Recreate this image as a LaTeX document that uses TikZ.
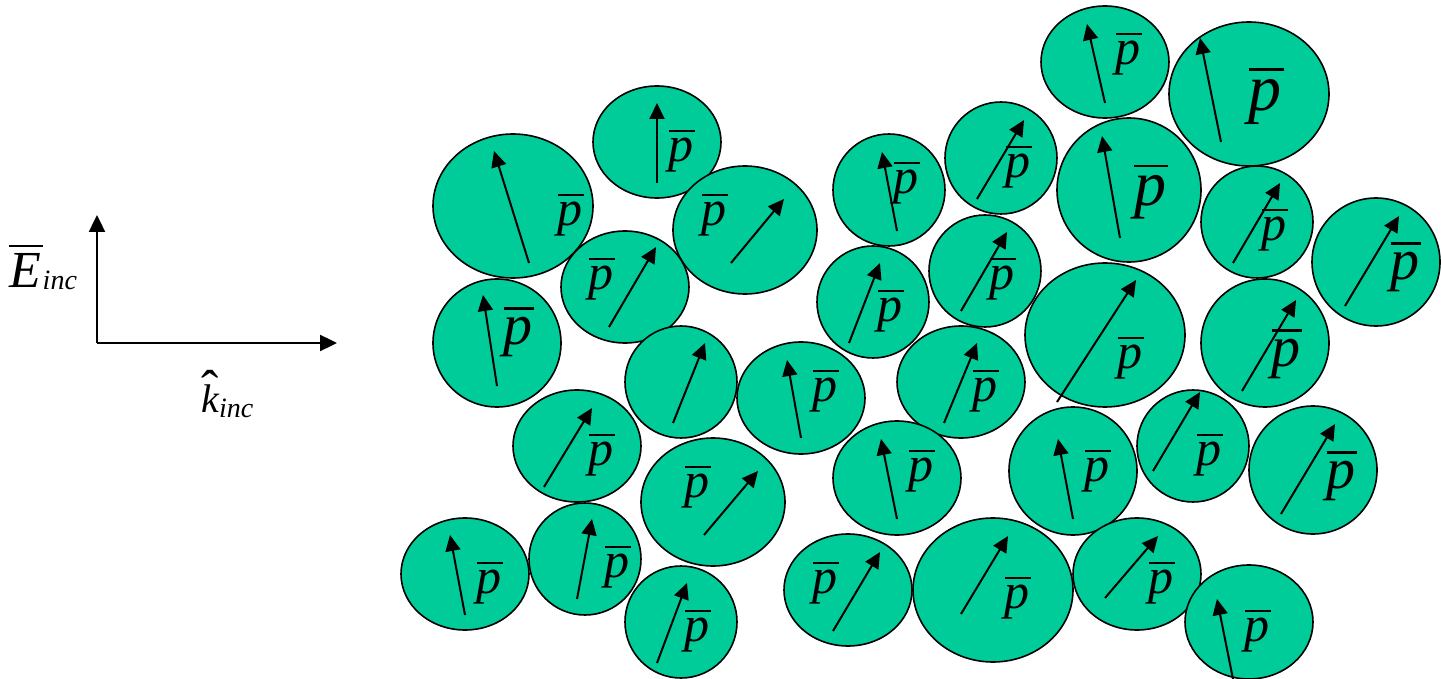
\documentclass[tikz,border=0pt]{standalone}
\usepackage{fontspec}
\setmainfont{Liberation Serif}
\usepackage{tikz}
\usetikzlibrary{arrows.meta}

\definecolor{grainfill}{HTML}{00CC99}
% letter with a bar over it
\newcommand{\barred}[1]{\leavevmode\vbox{\hrule height 0.045em\kern0.13em\hbox{\itshape #1\kern0.03em}}}
\newcommand{\pbar}{\barred{p}}
% letter with a hat over it
\newcommand{\hatted}[1]{{\setbox0\hbox{\itshape #1}%
    \rlap{\hbox to \wd0{\hss\raisebox{3pt}{\fontsize{26}{26}\selectfont\char"02C6}\hss}}\box0}}

\begin{document}
\begin{tikzpicture}[
    x=0.5pt, y=-0.5pt,
    grain/.style={draw=black, line width=0.8pt, fill=grainfill},
    dip/.style  ={-{Triangle[length=8pt, width=7.5pt]}, line width=1pt},
    axis/.style ={-{Triangle[length=8.5pt, width=8pt]}, line width=1.2pt},
    plab/.style ={inner sep=0pt, font=\fontsize{25}{25}\selectfont},
    pmid/.style ={inner sep=0pt, font=\fontsize{29}{29}\selectfont},
    pbig/.style ={inner sep=0pt, font=\fontsize{32}{32}\selectfont}
]
\useasboundingbox (0,0) rectangle (1441,679);

% incident field
\coordinate (origin) at (97,343);
\coordinate (etip)   at (97,215);
\coordinate (ktip)   at (337,343);
\draw[axis] (origin) -- (etip);
\draw[axis] (origin) -- (ktip);
\node[inner sep=0pt, anchor=base west, font=\fontsize{26}{26}\selectfont] (elabel) at (9,288)
    {\barred{E}\raisebox{-1pt}{\fontsize{14}{14}\selectfont\itshape inc}};
\node[inner sep=0pt, anchor=base west, font=\fontsize{20}{20}\selectfont] (klabel) at (201,413)
    {\hatted{k}\raisebox{-2pt}{\fontsize{14}{14}\selectfont\itshape inc}};

% grains
\draw[grain] (513,206) ellipse [x radius=80, y radius=72];
\draw[dip] (529,263) -- (494,151);
\node[plab] (p1) at (571,215) {\pbar};

\draw[grain] (657,142) ellipse [x radius=64, y radius=56];
\draw[dip] (657,183) -- (657,103);
\node[plab] (p2) at (682,151) {\pbar};

\draw[grain] (745,230) ellipse [x radius=72, y radius=64];
\draw[dip] (731,263) -- (784,199);
\node[plab] (p3) at (715,215) {\pbar};

\draw[grain] (625,287) ellipse [x radius=64, y radius=56];
\draw[dip] (609,327) -- (656,247);
\node[plab] (p4) at (602,279) {\pbar};

\draw[grain] (497,343) ellipse [x radius=64, y radius=64];
\draw[dip] (497,386) -- (483,295);
\node[pmid] (p5) at (519,332) {\pbar};

\draw[grain] (681,382) ellipse [x radius=56, y radius=56];
\draw[dip] (673,423) -- (705,343);

\draw[grain] (801,398) ellipse [x radius=64, y radius=56];
\draw[dip] (801,438) -- (787,360);
\node[plab] (p7) at (826,391) {\pbar};

\draw[grain] (577,446) ellipse [x radius=64, y radius=56];
\draw[dip] (544,487) -- (592,408);
\node[plab] (p8) at (602,455) {\pbar};

\draw[grain] (713,502) ellipse [x radius=72, y radius=64];
\draw[dip] (704,535) -- (758,471);
\node[plab] (p9) at (698,487) {\pbar};

\draw[grain] (465,574) ellipse [x radius=64, y radius=56];
\draw[dip] (465,615) -- (450,535);
\node[plab] (p10) at (490,583) {\pbar};

\draw[grain] (585,559) ellipse [x radius=56, y radius=56];
\draw[dip] (577,599) -- (592,519);
\node[plab] (p11) at (618,567) {\pbar};

\draw[grain] (681,622) ellipse [x radius=56, y radius=56];
\draw[dip] (657,663) -- (687,583);
\node[plab] (p12) at (698,631) {\pbar};

\draw[grain] (848,590) ellipse [x radius=64, y radius=56];
\draw[dip] (833,631) -- (880,552);
\node[plab] (p13) at (826,583) {\pbar};

\draw[grain] (993,590) ellipse [x radius=80, y radius=72];
\draw[dip] (961,614) -- (1008,536);
\node[plab] (p14) at (1018,598) {\pbar};

\draw[grain] (961,382) ellipse [x radius=64, y radius=56];
\draw[dip] (944,423) -- (977,343);
\node[plab] (p15) at (986,391) {\pbar};

\draw[grain] (897,478) ellipse [x radius=64, y radius=57];
\draw[dip] (897,519) -- (881,439);
\node[plab] (p16) at (922,471) {\pbar};

\draw[grain] (1073,471) ellipse [x radius=64, y radius=64];
\draw[dip] (1073,519) -- (1058,439);
\node[plab] (p17) at (1098,471) {\pbar};

\draw[grain] (1105,62) ellipse [x radius=64, y radius=56];
\draw[dip] (1105,103) -- (1087,24);
\node[plab] (p18) at (1129,54) {\pbar};

\draw[grain] (889,190) ellipse [x radius=56, y radius=56];
\draw[dip] (897,231) -- (882,152);
\node[plab] (p19) at (907,183) {\pbar};

\draw[grain] (1001,158) ellipse [x radius=56, y radius=56];
\draw[dip] (977,199) -- (1024,120);
\node[plab] (p20) at (1019,167) {\pbar};

\draw[grain] (1129,190) ellipse [x radius=72, y radius=72];
\draw[dip] (1120,238) -- (1102,136);
\node[pbig] (p21) at (1151,192) {\pbar};

\draw[grain] (873,302) ellipse [x radius=56, y radius=56];
\draw[dip] (849,343) -- (880,263);
\node[plab] (p22) at (891,311) {\pbar};

\draw[grain] (985,271) ellipse [x radius=56, y radius=56];
\draw[dip] (961,311) -- (1007,232);
\node[plab] (p23) at (1003,279) {\pbar};

\draw[grain] (1105,335) ellipse [x radius=80, y radius=72];
\draw[dip] (1057,402) -- (1136,280);
\node[plab] (p24) at (1131,358) {\pbar};

\draw[grain] (1249,94) ellipse [x radius=80, y radius=72];
\draw[dip] (1221,142) -- (1200,38);
\node[pbig, font=\fontsize{33}{33}\selectfont] (p25) at (1266,96) {\pbar};

\draw[grain] (1257,222) ellipse [x radius=56, y radius=56];
\draw[dip] (1233,263) -- (1280,183);
\node[plab] (p26) at (1275,230) {\pbar};

\draw[grain] (1265,343) ellipse [x radius=64, y radius=64];
\draw[dip] (1242,391) -- (1296,300);
\node[pmid] (p27) at (1287,354) {\pbar};

\draw[grain] (1376,262) ellipse [x radius=64, y radius=64];
\draw[dip] (1345,306) -- (1399,216);
\node[pmid] (p28) at (1406,267) {\pbar};

\draw[grain] (1193,446) ellipse [x radius=56, y radius=56];
\draw[dip] (1153,471) -- (1200,392);
\node[plab] (p29) at (1210,455) {\pbar};

\draw[grain] (1313,470) ellipse [x radius=64, y radius=64];
\draw[dip] (1281,514) -- (1335,424);
\node[pmid] (p30) at (1342,476) {\pbar};

\draw[grain] (1137,574) ellipse [x radius=64, y radius=56];
\draw[dip] (1105,598) -- (1158,536);
\node[plab] (p31) at (1162,583) {\pbar};

\draw[grain] (1249,622) ellipse [x radius=64, y radius=57];
\draw[dip] (1233,679) -- (1217,599);
\node[plab] (p32) at (1258,631) {\pbar};
\end{tikzpicture}
\end{document}
